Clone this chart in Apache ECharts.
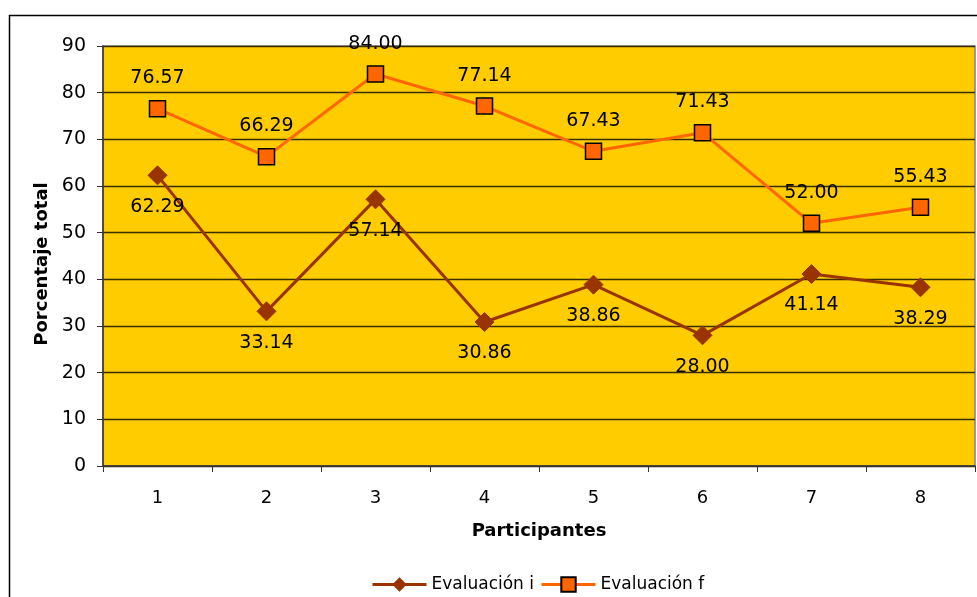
<!DOCTYPE html>
<html>
<head>
<meta charset="utf-8">
<script src="https://cdn.jsdelivr.net/npm/echarts@6/dist/echarts.min.js"></script>
<style>
  html, body { margin: 0; padding: 0; background: #fff; }
  #chart { width: 977px; height: 597px; }
</style>
</head>
<body>
<div id="chart"></div>
<script>
// Participants and the two evaluation scores (percent)
const participantes = ['1', '2', '3', '4', '5', '6', '7', '8'];
const evaluacionI = [62.29, 33.14, 57.14, 30.86, 38.86, 28.00, 41.14, 38.29];
const evaluacionF = [76.57, 66.29, 84.00, 77.14, 67.43, 71.43, 52.00, 55.43];
const yTicks = { min: 0, max: 90, interval: 10 };

const FONT = 'DejaVu Sans';
const chart = echarts.init(document.getElementById('chart'), null, { renderer: 'canvas' });

chart.setOption({
  animation: false,
  backgroundColor: '#ffffff',
  textStyle: { fontFamily: FONT },
  graphic: [
    { type: 'rect', left: 7, top: 13, shape: { width: 990, height: 620 },
      style: { fill: 'none', stroke: '#000', lineWidth: 1.5 }, z: -1 }
  ],
  grid: {
    left: 103, top: 46, right: 2, bottom: 131,
    show: true, backgroundColor: '#FFCC00', borderColor: '#808080', borderWidth: 1.5
  },
  legend: {
    top: 571, left: 366,
    itemWidth: 54, itemHeight: 18, itemGap: 6,
    lineStyle: { width: 3 },
    textStyle: { fontFamily: FONT, fontSize: 17, color: '#000' },
    data: ['Evaluación i', 'Evaluación f']
  },
  xAxis: {
    type: 'category',
    data: participantes,
    boundaryGap: true,
    name: 'Participantes',
    nameLocation: 'middle',
    nameGap: 56,
    nameTextStyle: { fontFamily: FONT, fontSize: 18, fontWeight: 'bold', color: '#000' },
    axisLine: { lineStyle: { color: '#333', width: 1.5 } },
    axisTick: { show: true, alignWithLabel: false, length: 6, lineStyle: { color: '#333' } },
    axisLabel: { fontFamily: FONT, fontSize: 18, color: '#000', margin: 23 },
    splitLine: { show: false }
  },
  yAxis: {
    type: 'value',
    min: yTicks.min, max: yTicks.max, interval: yTicks.interval,
    name: 'Porcentaje total',
    nameLocation: 'middle',
    nameGap: 49,
    nameTextStyle: { fontFamily: FONT, fontSize: 18, fontWeight: 'bold', color: '#000', padding: [0, 16, 0, 0] },
    axisLine: { show: true, lineStyle: { color: '#333', width: 1.5 } },
    axisTick: { show: true, length: 6, lineStyle: { color: '#333' } },
    axisLabel: { fontFamily: FONT, fontSize: 19, color: '#000', margin: 17 },
    splitLine: { show: true, lineStyle: { color: '#3a2e00', width: 1.3 } }
  },
  series: [
    {
      name: 'Evaluación i',
      type: 'line',
      data: evaluacionI,
      symbol: 'diamond',
      symbolSize: 19,
      lineStyle: { color: '#993300', width: 3 },
      itemStyle: { color: '#993300', borderColor: '#993300' },
      label: {
        show: true, position: 'bottom', distance: 12,
        fontFamily: FONT, fontSize: 19, color: '#000',
        formatter: p => p.value.toFixed(2)
      },
      z: 3
    },
    {
      name: 'Evaluación f',
      type: 'line',
      data: evaluacionF,
      symbol: 'rect',
      symbolSize: 16,
      lineStyle: { color: '#FF6600', width: 3 },
      itemStyle: { color: '#FF6600', borderColor: '#000', borderWidth: 1.5 },
      label: {
        show: true, position: 'top', distance: 12,
        fontFamily: FONT, fontSize: 19, color: '#000',
        formatter: p => p.value.toFixed(2)
      },
      z: 4
    }
  ]
});
</script>
</body>
</html>
